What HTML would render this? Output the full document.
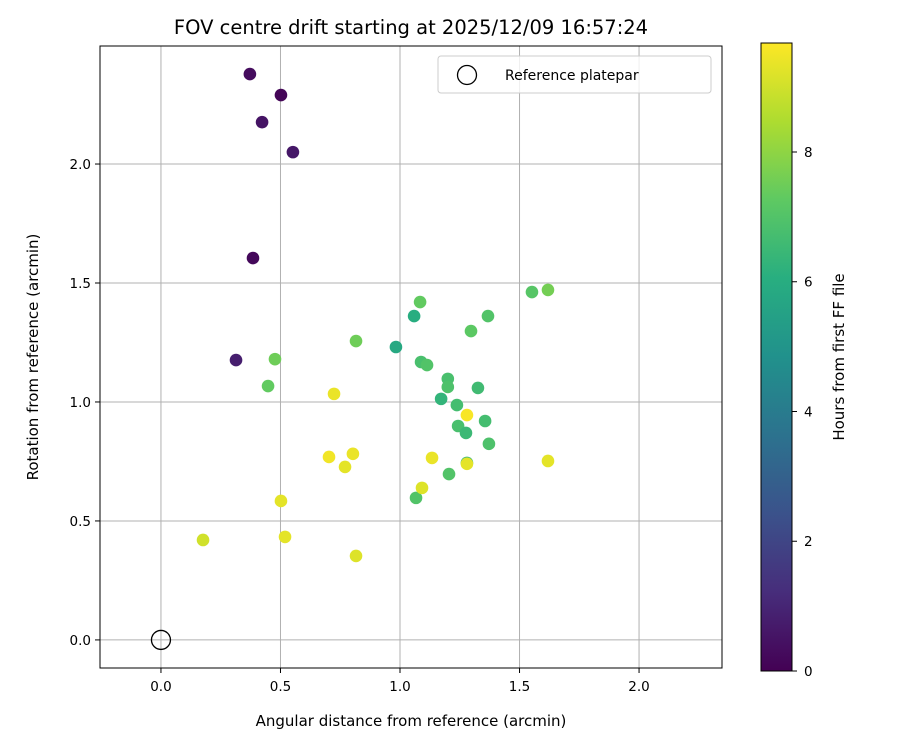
<!DOCTYPE html>
<html><head><meta charset="utf-8"><style>
body{margin:0;background:#fff}
svg text{font-family:"DejaVu Sans","Liberation Sans",sans-serif;fill:#000}
</style></head><body>
<svg id="c" width="900" height="750">
<defs><linearGradient id="vir" x1="0" y1="1" x2="0" y2="0">
<stop offset="0" stop-color="#440154"/><stop offset="0.125" stop-color="#472d7b"/><stop offset="0.25" stop-color="#3b528b"/><stop offset="0.375" stop-color="#2c728e"/><stop offset="0.5" stop-color="#21918c"/><stop offset="0.625" stop-color="#28ae80"/><stop offset="0.75" stop-color="#5ec962"/><stop offset="0.875" stop-color="#addc30"/><stop offset="1" stop-color="#fde725"/>
</linearGradient></defs>
</svg>
<script>
const xs=[0.372,0.502,0.423,0.552,0.385,0.314,0.477,0.448,0.816,1.084,1.059,0.983,1.088,1.113,1.2,1.2,1.172,1.238,1.243,1.276,1.297,1.368,1.326,1.356,1.372,1.552,1.619,1.205,1.067,1.28,0.724,1.28,0.703,0.803,0.77,1.134,1.28,1.092,1.619,0.502,0.176,0.519,0.816];
const ys=[2.378,2.29,2.176,2.05,1.605,1.176,1.18,1.067,1.256,1.42,1.361,1.231,1.168,1.155,1.097,1.063,1.013,0.987,0.899,0.87,1.298,1.361,1.059,0.92,0.824,1.462,1.471,0.697,0.597,0.744,1.034,0.945,0.769,0.782,0.727,0.765,0.74,0.639,0.752,0.584,0.42,0.433,0.353];
const hours=[0.3,0.1,0.5,0.6,0.2,0.8,7.5,7.3,7.5,7.3,6.0,5.8,6.8,7.0,6.8,6.9,6.3,6.7,6.8,6.5,7.2,7.0,6.6,6.7,6.9,7.1,7.6,7.0,7.0,6.5,9.4,9.6,9.5,9.4,9.3,9.4,9.3,9.2,9.3,9.3,9.0,9.3,9.2];
const xTicks=[0,0.5,1,1.5,2];
const yTicks=[0,0.5,1,1.5,2];
const cTicks=[0,2,4,6,8];
const X0=100,X1=722,Y0=46,Y1=668,XMIN=-0.255,XMAX=2.347,YMIN=-0.118,YMAX=2.496,HMAX=9.68,CT=43,CB=671;
const sx=v=>X0+(v-XMIN)/(XMAX-XMIN)*(X1-X0);
const sy=v=>Y1-(v-YMIN)/(YMAX-YMIN)*(Y1-Y0);
const sc=h=>CB-h/HMAX*(CB-CT);
const vir=[[68,1,84],[71,45,123],[59,82,139],[44,114,142],[33,145,140],[40,174,128],[94,201,98],[173,220,48],[253,231,37]];
function col(h){let t=Math.max(0,Math.min(1,h/HMAX))*(vir.length-1);let i=Math.min(Math.floor(t),vir.length-2),f=t-i;
return 'rgb('+vir[i].map((a,k)=>Math.round(a+(vir[i+1][k]-a)*f)).join(',')+')';}
const svg=document.getElementById('c');const NS='http://www.w3.org/2000/svg';
function mk(t,a,p){const e=document.createElementNS(NS,t);for(const k in a)e.setAttribute(k,a[k]);(p||svg).appendChild(e);return e;}
function tx(s,a){const e=mk('text',a);e.textContent=s;return e;}
xTicks.forEach(v=>{const l=mk('line',{x1:sx(v),x2:sx(v),y1:Y0,y2:Y1,stroke:'#b0b0b0','stroke-width':1});

mk('line',{x1:sx(v),x2:sx(v),y1:Y1,y2:Y1+5,stroke:'#000'});
const t=tx(v.toFixed(1),{x:sx(v),y:Y1+23,'text-anchor':'middle','font-size':13.5});
});
yTicks.forEach(v=>{const l=mk('line',{x1:X0,x2:X1,y1:sy(v),y2:sy(v),stroke:'#b0b0b0','stroke-width':1});

mk('line',{x1:X0-5,x2:X0,y1:sy(v),y2:sy(v),stroke:'#000'});
const t=tx(v.toFixed(1),{x:X0-9,y:sy(v)+5,'text-anchor':'end','font-size':13.5});
});
const ref=mk('circle',{cx:sx(0),cy:sy(0),r:9.5,fill:'none',stroke:'#000','stroke-width':1.3});

xs.forEach((v,i)=>{const c=mk('circle',{cx:sx(v),cy:sy(ys[i]),r:6.3,fill:col(hours[i])});
});
const fr=mk('rect',{x:X0,y:Y0,width:X1-X0,height:Y1-Y0,fill:'none',stroke:'#000','stroke-width':1});

const lg=mk('rect',{x:438,y:56,width:273,height:37,rx:3,fill:'#fff','fill-opacity':0.8,stroke:'#ccc'});

mk('circle',{cx:467,cy:75,r:9.5,fill:'none',stroke:'#000','stroke-width':1.3});
const lt=tx('Reference platepar',{x:505,y:80,'font-size':14});

const tt=tx('FOV centre drift starting at 2025/12/09 16:57:24',{x:411,y:34,'text-anchor':'middle','font-size':19.5});

const xl=tx('Angular distance from reference (arcmin)',{x:411,y:726,'text-anchor':'middle','font-size':15});

const yl=tx('Rotation from reference (arcmin)',{x:0,y:0,'text-anchor':'middle','font-size':15,transform:'translate(38,357) rotate(-90)'});

const cb=mk('rect',{x:761,y:CT,width:31,height:CB-CT,fill:'url(#vir)',stroke:'#000','stroke-width':1});

cTicks.forEach(v=>{mk('line',{x1:792,x2:797,y1:sc(v),y2:sc(v),stroke:'#000'});
const t=tx(String(v),{x:804,y:sc(v)+5,'font-size':13.5});
});
const cl=tx('Hours from first FF file',{x:0,y:0,'text-anchor':'middle','font-size':15,transform:'translate(844,357) rotate(-90)'});

</script>
</body></html>
